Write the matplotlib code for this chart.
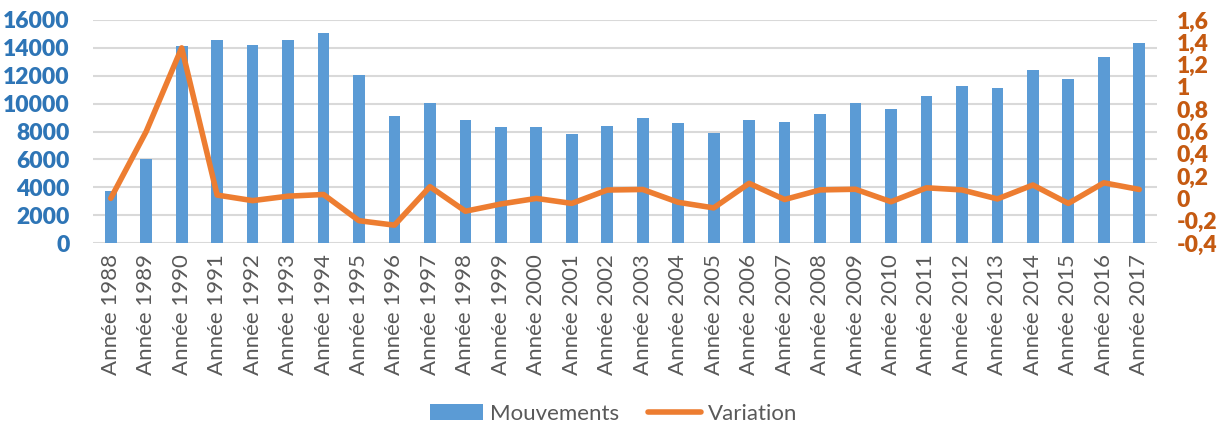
import numpy as np
import matplotlib.pyplot as plt
from matplotlib.ticker import FuncFormatter

# Données
annees = list(range(1988, 2018))
labels = ["Année %d" % a for a in annees]
mouvements = [3700, 6050, 14170, 14550, 14210, 14590, 15070, 12020, 9140, 10050,
              8810, 8310, 8310, 7830, 8360, 9000, 8620, 7860, 8830, 8670,
              9270, 10050, 9640, 10520, 11260, 11140, 12400, 11790, 13310, 14330]
variation = [0.0, 0.6, 1.35, 0.03, -0.02, 0.02, 0.035, -0.2, -0.24, 0.105,
             -0.115, -0.05, 0.0, -0.045, 0.075, 0.08, -0.035, -0.085, 0.135, -0.01,
             0.076, 0.082, -0.03, 0.095, 0.076, -0.005, 0.12, -0.045, 0.14, 0.08]

plt.rcParams['font.family'] = ['Lato', 'DejaVu Sans']

fig = plt.figure(figsize=(12.27, 4.28), dpi=100)
ax = fig.add_axes([93 / 1227, 1 - 243 / 428, (1157 - 93) / 1227, (243 - 20) / 428])
ax2 = ax.twinx()

x = np.arange(len(annees))
ax.bar(x, mouvements, width=0.33, color='#5B9BD5', label='Mouvements', zorder=2)
ax2.plot(x, variation, color='#ED7D31', lw=4, solid_capstyle='round',
         solid_joinstyle='round', label='Variation', zorder=3)

# Axe gauche
ax.set_ylim(0, 16000)
ax.set_yticks(np.arange(0, 16001, 2000))
ax.set_xlim(-0.5, len(annees) - 0.5)
ax.grid(axis='y', color='#D9D9D9', lw=1.5, zorder=0)
ax.set_axisbelow(True)
ax.set_xticks(x)
ax.set_xticklabels(labels, rotation=90, color='#595959', fontsize=16)
ax.tick_params(axis='y', colors='#2E75B6', labelsize=16.5, length=0, pad=17)
ax.tick_params(axis='x', length=0, pad=8)
for lab in ax.get_yticklabels():
    lab.set_fontweight('heavy')
for s in ax.spines.values():
    s.set_visible(False)

# Axe droit
ax2.set_ylim(-0.4, 1.6)
ax2.set_yticks(np.arange(-0.4, 1.61, 0.2))
ax2.yaxis.set_major_formatter(FuncFormatter(
    lambda v, p: ('%g' % round(v, 1)).replace('.', ',') if abs(v) > 1e-9 else '0'))
ax2.tick_params(axis='y', colors='#C55A11', labelsize=16.5, length=0, pad=14)
for lab in ax2.get_yticklabels():
    lab.set_fontweight('heavy')
for s in ax2.spines.values():
    s.set_visible(False)

# Légende
h1, l1 = ax.get_legend_handles_labels()
h2, l2 = ax2.get_legend_handles_labels()
leg = fig.legend(h1 + h2, l1 + l2, loc='center', bbox_to_anchor=(0.5, 1 - 414 / 428),
                 ncol=2, frameon=False, fontsize=16, handlelength=2.4,
                 handletextpad=0.3, columnspacing=1.3)
for t in leg.get_texts():
    t.set_color('#595959')

fig.savefig('out.png', dpi=100)
